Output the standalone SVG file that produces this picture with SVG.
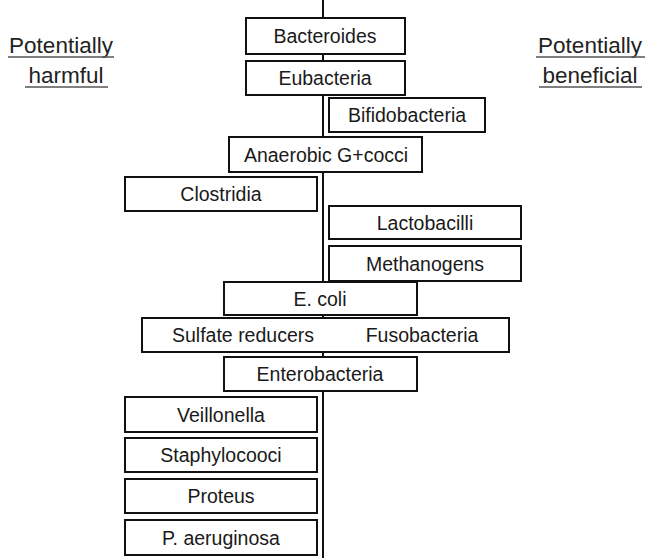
<svg xmlns="http://www.w3.org/2000/svg" width="650" height="558" viewBox="0 0 650 558">
<style>
.box rect{fill:#fff;stroke:#111;stroke-width:2}
.box text{font-family:"Liberation Sans",Arial,sans-serif;font-size:19.5px;fill:#1a1a1a;text-anchor:middle}
.head{font-family:"Liberation Sans",Arial,sans-serif;font-size:22.5px;fill:#222;text-anchor:middle}
.ul{stroke:#555;stroke-width:1.6}
.conn{stroke:#111;stroke-width:2}
</style>
<rect width="650" height="558" fill="#fff"/>
<g id="connectors">
<line class="conn" x1="323" y1="0" x2="323" y2="558"/>
</g>
<g id="label-harmful">
<text class="head" x="61" y="53">Potentially</text>
<line class="ul" x1="8" y1="57" x2="114" y2="57"/>
<text class="head" x="66" y="83">harmful</text>
<line class="ul" x1="25" y1="87" x2="108" y2="87"/>
</g>
<g id="label-beneficial">
<text class="head" x="590" y="53">Potentially</text>
<line class="ul" x1="536" y1="57" x2="645" y2="57"/>
<text class="head" x="590" y="83">beneficial</text>
<line class="ul" x1="539" y1="87" x2="642" y2="87"/>
</g>
<g id="n-bacteroides" class="box"><rect x="246" y="18" width="159" height="36"/><text x="325" y="43">Bacteroides</text></g>
<g id="n-eubacteria" class="box"><rect x="246" y="61" width="159" height="34"/><text x="325" y="85">Eubacteria</text></g>
<g id="n-bifidobacteria" class="box"><rect x="329" y="98" width="156" height="34"/><text x="407" y="122">Bifidobacteria</text></g>
<g id="n-anaerobic" class="box"><rect x="229" y="137" width="193" height="35"/><text x="326" y="161.5">Anaerobic G+cocci</text></g>
<g id="n-clostridia" class="box"><rect x="125" y="177" width="192" height="34"/><text x="221" y="201">Clostridia</text></g>
<g id="n-lactobacilli" class="box"><rect x="329" y="206" width="192" height="33"/><text x="425" y="229.5">Lactobacilli</text></g>
<g id="n-methanogens" class="box"><rect x="329" y="246" width="192" height="35"/><text x="425" y="270.5">Methanogens</text></g>
<g id="n-ecoli" class="box"><rect x="224" y="282" width="193" height="33"/><text x="320" y="305.5">E. coli</text></g>
<g id="n-sulfate-fuso" class="box"><rect x="142" y="318" width="367" height="34"/><text x="243" y="342">Sulfate reducers</text><text x="422" y="342">Fusobacteria</text></g>
<g id="n-enterobacteria" class="box"><rect x="224" y="357" width="193" height="34"/><text x="320" y="381">Enterobacteria</text></g>
<g id="n-veillonella" class="box"><rect x="125" y="397" width="192" height="35"/><text x="221" y="421.5">Veillonella</text></g>
<g id="n-staphylococci" class="box"><rect x="125" y="438" width="192" height="34"/><text x="221" y="462">Staphylocooci</text></g>
<g id="n-proteus" class="box"><rect x="125" y="479" width="192" height="34"/><text x="221" y="503">Proteus</text></g>
<g id="n-paeruginosa" class="box"><rect x="125" y="520" width="192" height="35"/><text x="221" y="544.5">P. aeruginosa</text></g>
</svg>
